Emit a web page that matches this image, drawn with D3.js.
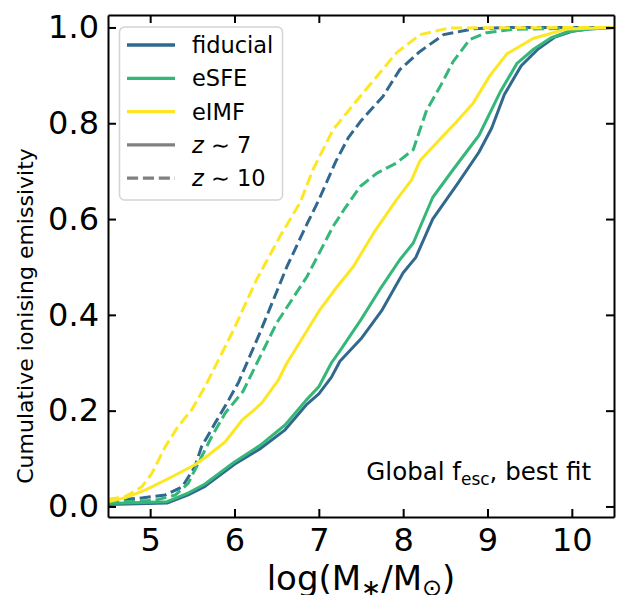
<!DOCTYPE html>
<html>
<head>
<meta charset="utf-8">
<script src="https://cdn.jsdelivr.net/npm/d3@7"></script>
<style>
  html, body { margin: 0; padding: 0; background: #fff; }
  svg { display: block; font-family: "DejaVu Sans", sans-serif; }
</style>
</head>
<body>
<svg id="chart" width="618" height="595"></svg>
<script>
// Cumulative ionising emissivity against stellar mass, three models at two redshifts
const xTicks = [5, 6, 7, 8, 9, 10];
const yTicks = [0.0, 0.2, 0.4, 0.6, 0.8, 1.0];

// fiducial, z ~ 7
const fidZ7X = [4.5, 5.2, 5.45, 5.65, 6.0, 6.3, 6.6, 6.85, 7.0, 7.15, 7.25, 7.5, 7.75, 8.0, 8.15, 8.35, 8.65, 8.9, 9.05, 9.2, 9.4, 9.6, 9.8, 10.0, 10.2, 10.5];
const fidZ7Y = [0.004, 0.007, 0.024, 0.042, 0.088, 0.12, 0.16, 0.212, 0.235, 0.27, 0.303, 0.35, 0.41, 0.488, 0.52, 0.6, 0.675, 0.74, 0.79, 0.86, 0.92, 0.955, 0.98, 0.992, 0.997, 1.0];
// eSFE, z ~ 7
const sfeZ7X = [4.5, 5.2, 5.45, 5.65, 6.0, 6.3, 6.6, 6.85, 7.0, 7.15, 7.25, 7.5, 7.72, 7.96, 8.12, 8.35, 8.6, 8.9, 9.15, 9.35, 9.55, 9.75, 9.95, 10.2, 10.5];
const sfeZ7Y = [0.006, 0.01, 0.028, 0.047, 0.093, 0.127, 0.17, 0.222, 0.25, 0.3, 0.325, 0.39, 0.452, 0.515, 0.55, 0.645, 0.705, 0.775, 0.865, 0.925, 0.955, 0.978, 0.991, 0.997, 1.0];
// eIMF, z ~ 7
const imfZ7X = [4.5, 4.7, 4.94, 5.26, 5.53, 5.69, 5.89, 6.09, 6.32, 6.52, 6.62, 6.8, 7.01, 7.2, 7.41, 7.65, 7.92, 8.1, 8.2, 8.4, 8.59, 8.83, 9.03, 9.23, 9.54, 9.94, 10.5];
const imfZ7Y = [0.01, 0.018, 0.034, 0.062, 0.087, 0.107, 0.135, 0.18, 0.215, 0.264, 0.299, 0.35, 0.41, 0.455, 0.501, 0.571, 0.64, 0.682, 0.722, 0.76, 0.795, 0.842, 0.9, 0.945, 0.977, 0.997, 1.0];
// fiducial, z ~ 10
const fidZ10X = [4.5, 4.86, 5.18, 5.38, 5.53, 5.61, 5.77, 5.93, 6.05, 6.3, 6.62, 6.86, 7.0, 7.1, 7.2, 7.35, 7.5, 7.76, 7.96, 8.2, 8.48, 8.83, 9.2, 10.5];
const fidZ10Y = [0.012, 0.017, 0.024, 0.041, 0.083, 0.125, 0.174, 0.222, 0.26, 0.362, 0.5, 0.59, 0.64, 0.68, 0.72, 0.77, 0.805, 0.856, 0.912, 0.95, 0.985, 0.997, 1.0, 1.0];
// eSFE, z ~ 10
const sfeZ10X = [4.5, 5.06, 5.3, 5.45, 5.57, 5.73, 5.89, 6.1, 6.5, 6.86, 7.17, 7.3, 7.49, 7.69, 7.92, 8.12, 8.2, 8.28, 8.44, 8.59, 8.79, 8.99, 9.3, 10.5];
const sfeZ10Y = [0.008, 0.013, 0.024, 0.048, 0.09, 0.146, 0.195, 0.24, 0.383, 0.48, 0.585, 0.62, 0.668, 0.696, 0.717, 0.745, 0.787, 0.828, 0.877, 0.928, 0.975, 0.989, 0.996, 1.0];
// eIMF, z ~ 10
const imfZ10X = [4.5, 4.7, 4.9, 5.02, 5.18, 5.33, 5.49, 5.65, 5.99, 6.26, 6.54, 6.78, 6.93, 7.17, 7.49, 7.69, 7.92, 8.2, 8.55, 10.5];
const imfZ10Y = [0.015, 0.02, 0.041, 0.069, 0.125, 0.167, 0.201, 0.25, 0.369, 0.473, 0.564, 0.635, 0.703, 0.787, 0.856, 0.898, 0.947, 0.985, 0.999, 1.0];

const models = ["fiducial", "eSFE", "eIMF"];
const modelColors = ["#31688e", "#35b779", "#fde725"];
const redshiftLabels = ["7", "10"];

const series = [
  { model: 0, dashed: false, xs: fidZ7X, ys: fidZ7Y },
  { model: 0, dashed: true,  xs: fidZ10X, ys: fidZ10Y },
  { model: 1, dashed: false, xs: sfeZ7X, ys: sfeZ7Y },
  { model: 1, dashed: true,  xs: sfeZ10X, ys: sfeZ10Y },
  { model: 2, dashed: false, xs: imfZ7X, ys: imfZ7Y },
  { model: 2, dashed: true,  xs: imfZ10X, ys: imfZ10Y }
];

const svg = d3.select("#chart");
const L = 108, R = 614, T = 15, B = 517;

const x = d3.scaleLinear().domain([4.5, 10.5]).range([L, R]);
const y = d3.scaleLinear().domain([-0.022, 1.026]).range([B, T]);

svg.append("defs").append("clipPath").attr("id", "plotclip")
  .append("rect").attr("x", L).attr("y", T).attr("width", R - L).attr("height", B - T);

const line = d3.line().x(d => x(d[0])).y(d => y(d[1]));
const DASH = "11.1,4.8";

const curves = svg.append("g").attr("clip-path", "url(#plotclip)");
series.forEach(s => {
  const pts = s.xs.map((v, i) => [v, s.ys[i]]);
  curves.append("path")
    .attr("d", line(pts))
    .attr("fill", "none")
    .attr("stroke", modelColors[s.model])
    .attr("stroke-width", 3)
    .attr("stroke-linejoin", "round")
    .attr("stroke-dasharray", s.dashed ? DASH : null);
});

// axes with inward ticks on all four sides
function styleAxis(g) {
  g.selectAll(".domain").attr("stroke", "#000").attr("stroke-width", 2);
  g.selectAll(".tick line").attr("stroke", "#000").attr("stroke-width", 2);
  g.selectAll("text").attr("fill", "#000").attr("font-size", 32)
    .attr("font-family", "DejaVu Sans");
}
svg.append("g").attr("transform", `translate(0,${B})`)
  .call(d3.axisBottom(x).tickValues(xTicks).tickFormat(d3.format("d")).tickSize(-8).tickSizeOuter(0).tickPadding(11))
  .call(styleAxis);
svg.append("g").attr("transform", `translate(${L},0)`)
  .call(d3.axisLeft(y).tickValues(yTicks).tickFormat(d3.format(".1f")).tickSize(-8).tickSizeOuter(0).tickPadding(9))
  .call(styleAxis);
svg.append("g").attr("transform", `translate(0,${T})`)
  .call(d3.axisTop(x).tickValues(xTicks).tickFormat("").tickSize(-8).tickSizeOuter(0))
  .call(styleAxis);
svg.append("g").attr("transform", `translate(${R},0)`)
  .call(d3.axisRight(y).tickValues(yTicks).tickFormat("").tickSize(-8).tickSizeOuter(0))
  .call(styleAxis);

// axis titles
const xt = svg.append("text").attr("x", (L + R) / 2).attr("y", 590)
  .attr("text-anchor", "middle").attr("font-size", 34).attr("fill", "#000");
xt.append("tspan").text("log(M");
xt.append("tspan").attr("font-size", 24).attr("dy", 6).text("∗");
xt.append("tspan").attr("dy", -6).text("/M");
xt.append("tspan").attr("font-size", 24).attr("dy", 6).text("⊙");
xt.append("tspan").attr("dy", -6).text(")");

svg.append("text")
  .attr("transform", `translate(33,316) rotate(-90)`)
  .attr("text-anchor", "middle").attr("font-size", 22).attr("fill", "#000")
  .text("Cumulative ionising emissivity");

// annotation
const ann = svg.append("text").attr("x", 591).attr("y", 480)
  .attr("text-anchor", "end").attr("font-size", 24.5).attr("fill", "#000");
ann.append("tspan").text("Global f");
ann.append("tspan").attr("font-size", 17).attr("dy", 5).text("esc");
ann.append("tspan").attr("dy", -5).text(", best fit");

// legend
const leg = svg.append("g");
leg.append("rect").attr("x", 119.5).attr("y", 27).attr("width", 163).attr("height", 173)
  .attr("rx", 5).attr("fill", "#fff").attr("fill-opacity", 0.8)
  .attr("stroke", "#d4d4d4").attr("stroke-width", 1.5);
const legendItems = [
  { label: [["fiducial", false]], color: modelColors[0], dashed: false },
  { label: [["eSFE", false]], color: modelColors[1], dashed: false },
  { label: [["eIMF", false]], color: modelColors[2], dashed: false },
  { label: [["z", true], [" ∼ " + redshiftLabels[0], false]], color: "#808080", dashed: false },
  { label: [["z", true], [" ∼ " + redshiftLabels[1], false]], color: "#808080", dashed: true }
];
legendItems.forEach((it, i) => {
  const cy = 45 + i * 33.3;
  leg.append("line").attr("x1", 127).attr("x2", 175).attr("y1", cy).attr("y2", cy)
    .attr("stroke", it.color).attr("stroke-width", 3.3)
    .attr("stroke-dasharray", it.dashed ? DASH : null);
  const t = leg.append("text").attr("x", 192).attr("y", cy + 8)
    .attr("font-size", 22.5).attr("fill", "#000");
  it.label.forEach(([s, ital]) => {
    t.append("tspan").attr("font-style", ital ? "italic" : null).text(s);
  });
});
</script>
</body>
</html>
